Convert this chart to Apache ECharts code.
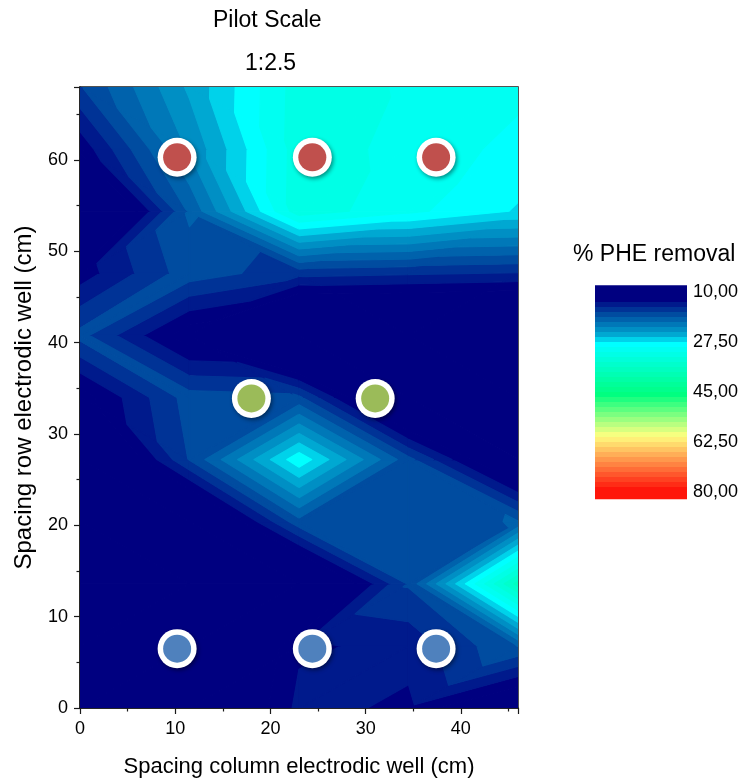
<!DOCTYPE html>
<html>
<head>
<meta charset="utf-8">
<title>Pilot Scale 1:2.5</title>
<script src="https://cdn.jsdelivr.net/npm/echarts@6/dist/echarts.min.js"></script>
<style>
  html, body { margin: 0; padding: 0; background: #fff; }
  #chart { width: 748px; height: 783px; }
</style>
</head>
<body>
<div id="chart"></div>
<script>
// measurement grid (cm)
const xNodes = [0, 11.5, 23, 34.5, 46];
const yNodes = [0, 6.8, 13.6, 20.4, 27.2, 34, 40.8, 47.6, 54.4, 61.2, 68];

// % PHE removal at each grid node, one row per y value (bottom to top)
const removal = [
  [4.0, 6.0, 14.0, 13.2, 8.0],
  [4.0, 5.0, 13.2, 14.0, 18.8],
  [4.0, 5.0, 5.7, 17.2, 37.0],
  [4.0, 6.0, 18.1, 17.8, 18.9],
  [5.0, 17.1, 28.8, 17.6, 7.3],
  [10.8, 17.8, 17.4, 5.0, 4.0],
  [17.6, 10.5, 3.0, 3.5, 3.0],
  [12.5, 18.0, 15.9, 15.5, 15.1],
  [3.8, 19.0, 32.1, 29.7, 27.3],
  [12.2, 22.5, 32.0, 30.4, 28.7],
  [16.8, 24.35, 31.9, 30.8, 29.7]
];

// electrode wells
const redWells = [[10.2, 60.3], [24.4, 60.3], [37.4, 60.3]];
const greenWells = [[18.0, 33.9], [31.0, 33.9]];
const blueWells = [[10.2, 6.5], [24.4, 6.5], [37.4, 6.5]];

// colour scale
const scaleMin = 10;
const scaleMax = 80;
const levelStep = 1.75;
const scaleTicks = [10, 27.5, 45, 62.5, 80];

const colorStops = [
  [10, '#000080'], [11.75, '#000080'], [13.5, '#001a8c'], [15.25, '#003396'],
  [17, '#004ca0'], [18.75, '#0062ac'], [20.5, '#0078b8'], [22.25, '#008fc4'],
  [24, '#00a8d2'], [25.75, '#00d2ea'], [27.5, '#00ffff'], [45, '#00ff80'],
  [59.5, '#ffff80'], [80, '#ff0000']
];

const levels = [];
for (let l = scaleMin; l <= scaleMax + 1e-9; l += levelStep) levels.push(+l.toFixed(3));
const bandCount = levels.length - 1;

function hexToRgb(h) {
  return [parseInt(h.substr(1, 2), 16), parseInt(h.substr(3, 2), 16), parseInt(h.substr(5, 2), 16)];
}
function colorAt(v) {
  if (v <= colorStops[0][0]) return colorStops[0][1];
  for (let i = 1; i < colorStops.length; i++) {
    if (v <= colorStops[i][0]) {
      const a = colorStops[i - 1], b = colorStops[i];
      const t = (v - a[0]) / (b[0] - a[0]);
      const ca = hexToRgb(a[1]), cb = hexToRgb(b[1]);
      const c = ca.map((x, k) => Math.round(x + t * (cb[k] - x)));
      return 'rgb(' + c.join(',') + ')';
    }
  }
  return colorStops[colorStops.length - 1][1];
}
const bandColors = [];
for (let k = 0; k < bandCount; k++) bandColors.push(colorAt(levels[k]));

// nodes and triangles of the grid
const nodes = [];
yNodes.forEach((y, j) => xNodes.forEach((x, i) => nodes.push({ x: x, y: y, v: removal[j][i] })));
const nid = (i, j) => j * xNodes.length + i;
const triangles = [];
for (let j = 0; j < yNodes.length - 1; j++) {
  for (let i = 0; i < xNodes.length - 1; i++) {
    const a = nid(i, j), b = nid(i + 1, j), c = nid(i + 1, j + 1), d = nid(i, j + 1);
    // cut each cell along the diagonal whose end values are closest
    if (Math.abs(nodes[a].v - nodes[c].v) <= Math.abs(nodes[b].v - nodes[d].v)) {
      triangles.push([a, b, c], [a, c, d]);
    } else {
      triangles.push([a, b, d], [b, c, d]);
    }
  }
}

// keep the part of a polygon above (or below) a level, values linear on edges
function clipPoly(poly, level, keepAbove) {
  const out = [];
  for (let i = 0; i < poly.length; i++) {
    const a = poly[i], b = poly[(i + 1) % poly.length];
    const ina = keepAbove ? a[2] >= level : a[2] <= level;
    const inb = keepAbove ? b[2] >= level : b[2] <= level;
    if (ina) out.push(a);
    if (ina !== inb) {
      const t = (level - a[2]) / (b[2] - a[2]);
      out.push([a[0] + t * (b[0] - a[0]), a[1] + t * (b[1] - a[1]), level]);
    }
  }
  return out;
}

function renderTriangle(params, api) {
  const tri = triangles[params.dataIndex];
  const pts = tri.map(n => {
    const p = api.coord([nodes[n].x, nodes[n].y]);
    return [p[0], p[1], nodes[n].v];
  });
  const children = [];
  for (let k = 0; k < bandCount; k++) {
    let poly = pts;
    if (k > 0) poly = clipPoly(poly, levels[k], true);
    if (poly.length >= 3 && k < bandCount - 1) poly = clipPoly(poly, levels[k + 1], false);
    if (poly.length < 3) continue;
    children.push({
      type: 'polygon',
      shape: { points: poly.map(p => [p[0], p[1]]) },
      style: { fill: bandColors[k], stroke: bandColors[k], lineWidth: 1.2, lineJoin: 'round' }
    });
  }
  return { type: 'group', children: children };
}

// colour bar: first and last band run a little past the end labels
const barExtend = 2.35;
function renderBand(params, api) {
  const k = params.dataIndex;
  const lo = k === 0 ? scaleMin - barExtend : levels[k];
  const hi = k === bandCount - 1 ? scaleMax + barExtend : levels[k + 1];
  const p0 = api.coord([0, lo]);
  const p1 = api.coord([1, hi]);
  return {
    type: 'rect',
    shape: { x: p0[0], y: p0[1], width: p1[0] - p0[0], height: p1[1] - p0[1] + 0.5 },
    style: { fill: bandColors[k] }
  };
}

const font = "'Liberation Sans', Arial, sans-serif";
const chart = echarts.init(document.getElementById('chart'));

// white ring (with drop shadow) under a flat coloured disc
function wellSeries(data, color) {
  return [
    {
      type: 'scatter', xAxisIndex: 0, yAxisIndex: 0, data: data,
      symbolSize: 39, z: 5, silent: true,
      itemStyle: {
        color: '#ffffff', opacity: 1,
        shadowBlur: 4, shadowColor: 'rgba(0,0,0,0.45)', shadowOffsetX: 1.5, shadowOffsetY: 2
      }
    },
    {
      type: 'scatter', xAxisIndex: 0, yAxisIndex: 0, data: data,
      symbolSize: 28, z: 6, silent: true,
      itemStyle: { color: color, opacity: 1 }
    }
  ];
}

const option = {
  backgroundColor: '#ffffff',
  animation: false,
  textStyle: { fontFamily: font },
  title: [
    { text: 'Pilot Scale', left: 213, top: 9, padding: 0,
      textStyle: { fontSize: 23, fontWeight: 'normal', color: '#000', fontFamily: font } },
    { text: '1:2.5', left: 245, top: 52, padding: 0,
      textStyle: { fontSize: 23, fontWeight: 'normal', color: '#000', fontFamily: font } },
    { text: '% PHE removal', left: 573, top: 243, padding: 0,
      textStyle: { fontSize: 23, fontWeight: 'normal', color: '#000', fontFamily: font } }
  ],
  grid: [
    { left: 80, right: 230, top: 87, bottom: 75, show: true, borderColor: '#1a1a1a', borderWidth: 1.5, backgroundColor: 'transparent' },
    { left: 595, width: 92, top: 292, height: 200 }
  ],
  xAxis: [
    {
      type: 'value', gridIndex: 0, min: 0, max: 46, interval: 10,
      name: 'Spacing column electrodic well (cm)', nameLocation: 'middle', nameGap: 48,
      nameTextStyle: { fontSize: 22, color: '#000', fontFamily: font },
      axisLine: { show: true, onZero: false, lineStyle: { color: '#1a1a1a', width: 1.5 } },
      axisTick: { show: true, inside: false, length: 6, lineStyle: { color: '#1a1a1a', width: 1.2 } },
      minorTick: { show: true, splitNumber: 2, length: 3.5, lineStyle: { color: '#1a1a1a', width: 1.2 } },
      axisLabel: { fontSize: 18, color: '#000', margin: 12, fontFamily: font, showMaxLabel: false },
      splitLine: { show: false }
    },
    { type: 'value', gridIndex: 1, min: 0, max: 1, show: false }
  ],
  yAxis: [
    {
      type: 'value', gridIndex: 0, min: 0, max: 68, interval: 10,
      name: 'Spacing row electrodic well (cm)', nameLocation: 'middle', nameGap: 44,
      nameTextStyle: { fontSize: 24, color: '#000', fontFamily: font },
      axisLine: { show: true, onZero: false, lineStyle: { color: '#1a1a1a', width: 1.5 } },
      axisTick: { show: true, inside: false, length: 6, lineStyle: { color: '#1a1a1a', width: 1.2 } },
      minorTick: { show: true, splitNumber: 2, length: 3.5, lineStyle: { color: '#1a1a1a', width: 1.2 } },
      axisLabel: { fontSize: 18, color: '#000', margin: 12, fontFamily: font, showMaxLabel: false },
      splitLine: { show: false }
    },
    {
      type: 'value', gridIndex: 1, min: scaleMin, max: scaleMax, interval: 17.5, inverse: true,
      position: 'right',
      axisLine: { show: false }, axisTick: { show: false }, splitLine: { show: false },
      axisLabel: {
        fontSize: 18, color: '#000', margin: 6, fontFamily: font,
        formatter: v => v.toFixed(2).replace('.', ',')
      }
    }
  ],
  series: [
    {
      type: 'custom',
      xAxisIndex: 0,
      yAxisIndex: 0,
      clip: true,
      silent: true,
      renderItem: renderTriangle,
      data: triangles.map(t => [
        (nodes[t[0]].x + nodes[t[1]].x + nodes[t[2]].x) / 3,
        (nodes[t[0]].y + nodes[t[1]].y + nodes[t[2]].y) / 3
      ]),
      z: 1
    },
    ...wellSeries(redWells, '#c0504d'),
    ...wellSeries(greenWells, '#9bbb59'),
    ...wellSeries(blueWells, '#4f81bd'),
    {
      type: 'custom',
      xAxisIndex: 1,
      yAxisIndex: 1,
      silent: true,
      renderItem: renderBand,
      data: levels.slice(0, bandCount).map(l => [0.5, l + levelStep / 2])
    }
  ]
};

chart.setOption(option);
</script>
</body>
</html>
